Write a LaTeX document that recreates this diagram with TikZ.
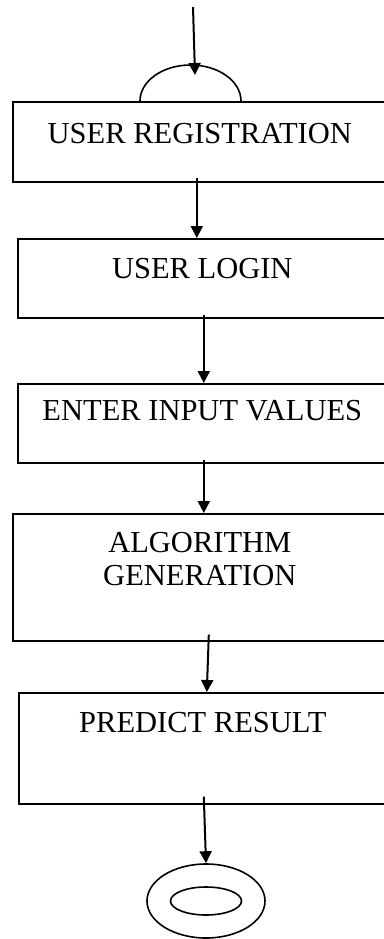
\documentclass[tikz,border=0pt]{standalone}
\usepackage{fontspec}
\setmainfont{Liberation Serif}
\usetikzlibrary{arrows.meta,shapes.geometric}
\begin{document}
\begin{tikzpicture}[x=1pt,y=1pt,
  box/.style={draw, line width=1.6pt, inner sep=0pt, anchor=north west,
    minimum width=374pt, align=center, font=\fontsize{30.5}{33}\selectfont},
  arr/.style={line width=2pt, -{Triangle[width=12pt,length=12pt]}},
  ring/.style={draw, ellipse, line width=1.6pt, inner sep=0pt}]
\useasboundingbox (0,0) rectangle (383,-939);
% boxes
\node[box, text height=42pt, text depth=38pt] (b1) at (12,-101) {USER REGISTRATION};
\node[box, minimum width=369pt, text height=40pt, text depth=39pt] (b2) at (17,-238) {USER LOGIN};
\node[box, minimum width=369pt, text height=37pt, text depth=42pt] (b3) at (17,-383) {ENTER INPUT VALUES};
\node[box, text height=72pt, text depth=55pt] (b4) at (12,-513) {ALGORITHM\\GENERATION};
\node[box, minimum width=368pt, text height=40pt, text depth=71pt] (b5) at (18,-692) {PREDICT RESULT};
% start symbol
\draw[line width=1.6pt] (140,-101) arc[start angle=180, end angle=0, x radius=50.5, y radius=36];
\coordinate (s0) at (193,-7);
\coordinate (s1) at (195,-75);
\draw[arr] (s0) -- (s1);
% end symbol
\node[ring, minimum width=118pt, minimum height=74pt] (end) at (206,-901) {};
\node[ring, minimum width=71pt, minimum height=28pt] (endin) at (end.center) {};
% connectors
\draw[arr] ([xshift=-3pt,yshift=5pt]b1.south) -- ([xshift=-5.5pt]b2.north);
\draw[arr] ([xshift=1.5pt,yshift=4pt]b2.south) -- ([xshift=1.5pt]b3.north);
\draw[arr] ([xshift=1.5pt,yshift=4pt]b3.south) -- ([xshift=4pt]b4.north);
\draw[arr] ([xshift=9pt,yshift=7pt]b4.south) -- ([xshift=4pt]b5.north);
\draw[arr] ([xshift=1pt,yshift=8pt]b5.south) -- (end.north);
\end{tikzpicture}
\end{document}
